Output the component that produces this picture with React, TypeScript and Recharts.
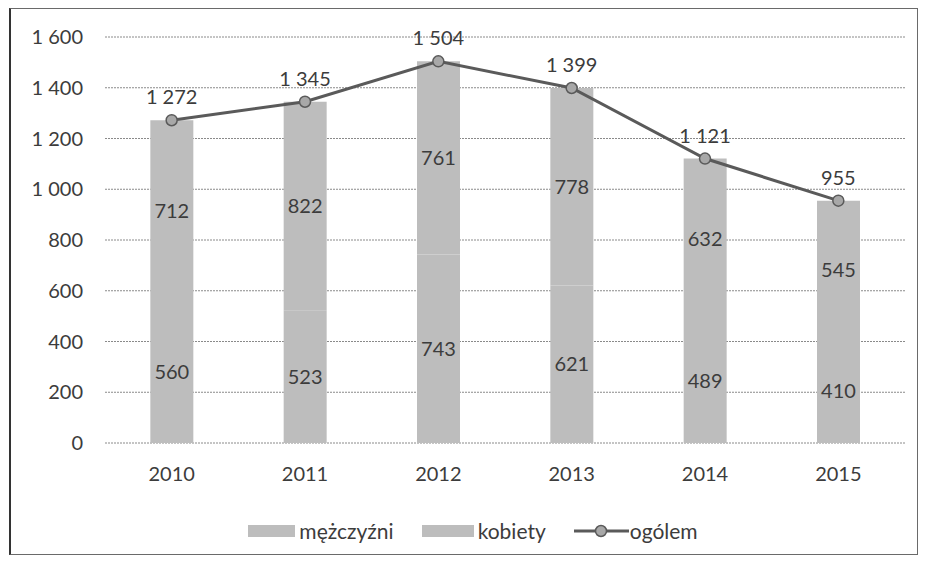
import { ComposedChart, Bar, Line, XAxis, YAxis, CartesianGrid, Legend, LabelList } from "recharts";

const years = ["2010", "2011", "2012", "2013", "2014", "2015"];
const men = [560, 523, 743, 621, 489, 410];
const women = [712, 822, 761, 778, 632, 545];
const total = [1272, 1345, 1504, 1399, 1121, 955];
const yTicks = [0, 200, 400, 600, 800, 1000, 1200, 1400, 1600];

const data = years.map((year, i) => ({ year, men: men[i], women: women[i], total: total[i] }));

const FONT = "Lato, 'Open Sans', sans-serif";
const TEXT = "#3c3c3c";
const BAR = "#bdbdbd";
const LINE = "#5a5a5a";

// polish style: space as thousands separator
const fmt = (v: any) => {
  const n = Number(v);
  if (n < 1000) return String(n);
  return `${Math.floor(n / 1000)} ${String(n % 1000).padStart(3, "0")}`;
};

function LegendContent() {
  const item = { display: "flex", alignItems: "center", marginRight: 28 } as const;
  return (
    <div style={{ height: 51, paddingTop: 4, paddingLeft: 30, boxSizing: "border-box", display: "flex", justifyContent: "center", fontFamily: FONT, fontSize: 21, color: TEXT, lineHeight: "24px" }}>
      <div style={item}>
        <span style={{ width: 47, height: 12, background: BAR, marginRight: 4 }} />
        mężczyźni
      </div>
      <div style={item}>
        <span style={{ width: 52, height: 12, background: BAR, marginRight: 4 }} />
        kobiety
      </div>
      <div style={{ ...item, marginRight: 0 }}>
        <svg width={55} height={14} style={{ marginRight: 1 }}>
          <line x1={0} y1={7} x2={55} y2={7} stroke={LINE} strokeWidth={3} />
          <circle cx={27} cy={7} r={5.5} fill="#a8a8a8" stroke={LINE} strokeWidth={1.5} />
        </svg>
        ogólem
      </div>
    </div>
  );
}

export default function App() {
  return (
    <div style={{ marginLeft: 1, width: 906, height: 545, border: "1px solid #6a6a6a", borderLeft: "2px solid #333", background: "#fff" }}>
      <ComposedChart
        width={906}
        height={545}
        data={data}
        margin={{ top: 28, right: 12, left: 0, bottom: 0 }}
        barCategoryGap="34%"
      >
        <CartesianGrid vertical={false} stroke="#8a8a8a" strokeDasharray="2 1" />
        <XAxis
          dataKey="year"
          axisLine={false}
          tickLine={false}
          tickSize={0}
          tickMargin={24}
          height={60}
          tick={{ fill: TEXT, fontSize: 20, fontFamily: FONT }}
        />
        <YAxis
          domain={[0, 1600]}
          ticks={yTicks}
          interval={0}
          axisLine={false}
          tickLine={false}
          tickSize={0}
          tickMargin={22}
          width={94}
          tickFormatter={fmt}
          tick={{ fill: TEXT, fontSize: 20, fontFamily: FONT }}
        />
        <Legend verticalAlign="bottom" content={<LegendContent />} />
        <Bar dataKey="men" name="mężczyźni" stackId="a" fill={BAR} isAnimationActive={false}>
          <LabelList dataKey="men" position="center" fill={TEXT} fontSize={20} fontFamily={FONT} />
        </Bar>
        <Bar dataKey="women" name="kobiety" stackId="a" fill={BAR} isAnimationActive={false}>
          <LabelList dataKey="women" position="center" fill={TEXT} fontSize={20} fontFamily={FONT} />
        </Bar>
        <Line
          type="linear"
          dataKey="total"
          name="ogólem"
          stroke={LINE}
          strokeWidth={3}
          dot={{ r: 5.5, fill: "#a8a8a8", stroke: LINE, strokeWidth: 1.5 }}
          isAnimationActive={false}
        >
          <LabelList dataKey="total" position="top" offset={16} formatter={fmt} fill={TEXT} fontSize={20} fontFamily={FONT} />
        </Line>
      </ComposedChart>
    </div>
  );
}
